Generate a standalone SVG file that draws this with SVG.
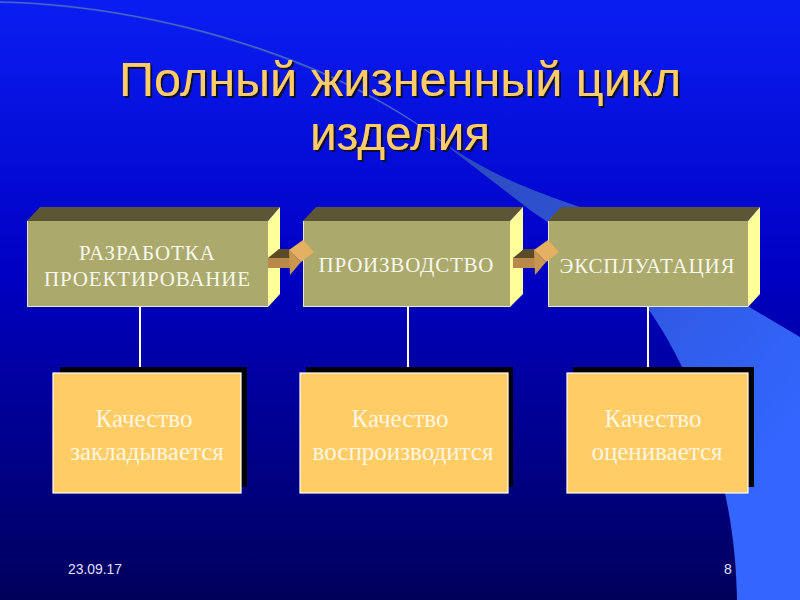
<svg xmlns="http://www.w3.org/2000/svg" width="800" height="600" viewBox="0 0 800 600">
<defs>
<linearGradient id="bg" x1="0" y1="0" x2="0" y2="1">
<stop offset="0" stop-color="#0a1ef2"/>
<stop offset="0.45" stop-color="#0000c4"/>
<stop offset="1" stop-color="#00005a"/>
</linearGradient>
<linearGradient id="sw" gradientUnits="userSpaceOnUse" x1="430" y1="140" x2="800" y2="420">
<stop offset="0" stop-color="#2c48b8"/>
<stop offset="0.55" stop-color="#2f58e0"/>
<stop offset="1" stop-color="#3366ff"/>
</linearGradient>
<filter id="tshadow" x="-5%" y="-20%" width="110%" height="140%">
<feDropShadow dx="2" dy="2" stdDeviation="0.4" flood-color="#101030" flood-opacity="1"/>
</filter>
<style>
.front{fill:#aba96b}
.edge{stroke:#e8e8d0;stroke-width:1;fill:none}
.top{fill:#5c5636}
.side{fill:#ffff99}
.shadow{fill:#000000}
.card{fill:#ffcc66;stroke:#ffffff;stroke-width:1.2}
.conn{stroke:#ffffff;stroke-width:2}
.up{font-family:"Liberation Serif","Times New Roman",serif;font-size:21px;fill:#f8f8f0;text-anchor:middle}
.low{font-family:"Liberation Serif","Times New Roman",serif;font-size:25px;fill:#fff6e0;text-anchor:middle}
.title{font-family:"Liberation Sans",Arial,sans-serif;font-size:49px;text-anchor:middle;fill:#ffcc66}
.foot{font-family:"Liberation Sans",Arial,sans-serif;font-size:14px;fill:#e0e0ff}
.ar-top{fill:#5a4a28}
.ar-body{fill:#b8894a}
.ar-head{fill:#c99650}
.ar-bevel{fill:#e6b062}
</style>
</defs>

<!-- background -->
<rect x="0" y="0" width="800" height="600" fill="url(#bg)"/>
<path d="M0,1 C150,4 330,55 440,140 C490,175 530,190 580,207 L800,337 L800,600 L737,600 C736,500 705,390 647,307 C610,265 560,230 530,210 L443,143 C330,58 150,6 0,3 Z" fill="url(#sw)"/>
<path d="M0,2 C150,5 330,56 441,141" fill="none" stroke="#6a8cff" stroke-width="0.8" opacity="0.6"/>

<!-- title -->
<g id="title" filter="url(#tshadow)">
<text class="title" x="400" y="96" textLength="562" lengthAdjust="spacingAndGlyphs">Полный жизненный цикл</text>
<text class="title" x="400" y="150" textLength="180" lengthAdjust="spacingAndGlyphs">изделия</text>
</g>

<!-- upper boxes -->
<g id="box-razrabotka">
<polygon class="top" points="27,221 40,207 280,207 268,221"/>
<polygon class="side" points="268,221 280,207 280,294 268,307"/>
<rect class="front" x="27" y="221" width="241" height="86"/>
<polyline class="edge" points="27.5,221 27.5,306.5 268,306.5"/>
<text class="up" x="147" y="260" textLength="136">РАЗРАБОТКА</text>
<text class="up" x="147" y="286" textLength="206">ПРОЕКТИРОВАНИЕ</text>
</g>
<g id="box-proizvodstvo">
<polygon class="top" points="303,221 316,207 523,207 510,221"/>
<polygon class="side" points="510,221 523,207 523,294 510,307"/>
<rect class="front" x="303" y="221" width="207" height="86"/>
<polyline class="edge" points="303.5,221 303.5,306.5 510,306.5"/>
<text class="up" x="406" y="272" textLength="175">ПРОИЗВОДСТВО</text>
</g>
<g id="box-ekspluatatsiya">
<polygon class="top" points="548,221 561,207 760,207 748,221"/>
<polygon class="side" points="748,221 760,207 760,294 748,307"/>
<rect class="front" x="548" y="221" width="200" height="86"/>
<polyline class="edge" points="548.5,221 548.5,306.5 748,306.5"/>
<text class="up" x="647" y="273" textLength="175">ЭКСПЛУАТАЦИЯ</text>
</g>

<!-- connectors -->
<g id="connectors">
<line class="conn" x1="140" y1="307" x2="140" y2="373"/>
<line class="conn" x1="408" y1="307" x2="408" y2="373"/>
<line class="conn" x1="648" y1="307" x2="648" y2="373"/>
<g id="arrow1">
<polygon class="ar-top" points="268,258 279,249 299,249 290,258"/>
<rect class="ar-body" x="268" y="258" width="22" height="10"/>
<polygon class="ar-head" points="289,250 301,262 290,275"/>
<polygon class="ar-bevel" points="289,250 303,240 314,252 301,262"/>
</g>
<g id="arrow2">
<polygon class="ar-top" points="513,258 524,249 544,249 535,258"/>
<rect class="ar-body" x="513" y="258" width="22" height="10"/>
<polygon class="ar-head" points="534,250 546,262 535,275"/>
<polygon class="ar-bevel" points="534,250 548,240 559,252 546,262"/>
</g>
</g>

<!-- lower boxes -->
<g id="box-zakladyvaetsya">
<rect class="shadow" x="60" y="367" width="187" height="120"/>
<rect class="card" x="53" y="373" width="188" height="120"/>
<text class="low" x="144" y="427">Качество</text>
<text class="low" x="147" y="460">закладывается</text>
</g>
<g id="box-vosproizvoditsya">
<rect class="shadow" x="306" y="367" width="207" height="120"/>
<rect class="card" x="300" y="373" width="208" height="120"/>
<text class="low" x="400" y="427">Качество</text>
<text class="low" x="403" y="460">воспроизводится</text>
</g>
<g id="box-otsenivaetsya">
<rect class="shadow" x="573" y="367" width="181" height="120"/>
<rect class="card" x="567" y="373" width="181" height="120"/>
<text class="low" x="653" y="427">Качество</text>
<text class="low" x="657" y="460">оценивается</text>
</g>

<!-- footer -->
<text class="foot" x="68" y="574" textLength="54" lengthAdjust="spacingAndGlyphs">23.09.17</text>
<text class="foot" x="724" y="574">8</text>
</svg>
